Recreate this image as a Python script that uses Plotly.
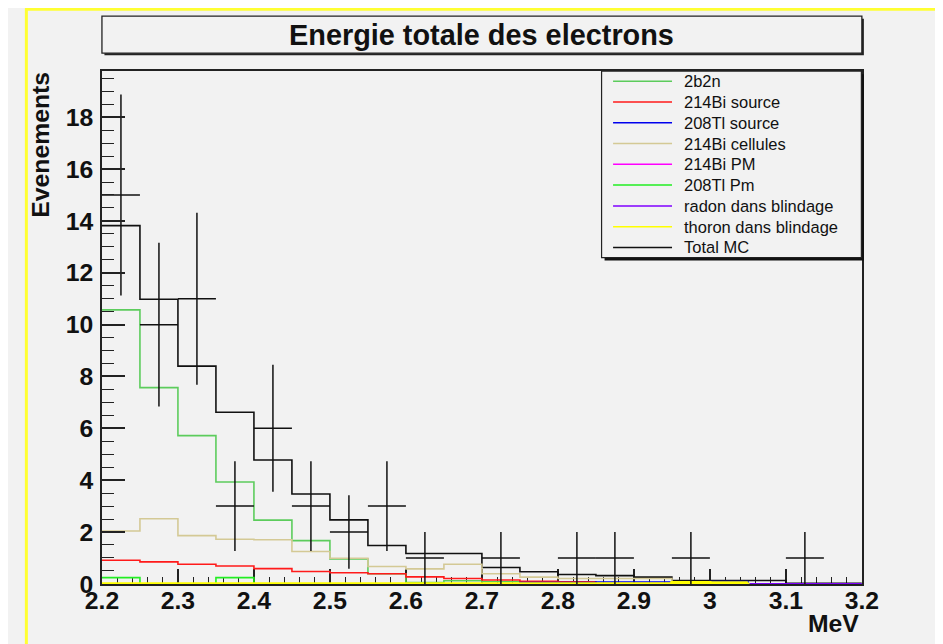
import plotly.graph_objects as go

# ---------------- data ----------------
bin_edges = [round(2.2 + 0.05 * i, 2) for i in range(21)]

data_counts = [15, 10, 11, 3, 6, 3, 2, 3, 1, 0, 1, 0, 1, 1, 0, 1, 0, 0, 1, 0]

total_mc = [13.82, 10.98, 8.40, 6.62, 4.78, 3.47, 2.47, 1.48, 1.17, 1.17,
            0.63, 0.47, 0.36, 0.32, 0.26, 0.13, 0.13, 0.13, 0.02, 0.02]
h_2b2n = [10.57, 7.57, 5.72, 3.93, 2.46, 1.67, 0.96, 0.39, 0.05, 0.12,
          0.08, 0.02, 0.0, 0.0, 0.0, 0.0, 0.0, 0.0, 0.0, 0.0]
bi214_source = [0.91, 0.85, 0.76, 0.69, 0.59, 0.48, 0.43, 0.39, 0.27, 0.21,
                0.15, 0.10, 0.08, 0.0, 0.0, 0.0, 0.0, 0.0, 0.0, 0.0]
tl208_source = [0.0, 0.0, 0.0, 0.0, 0.0, 0.0, 0.0, 0.0, 0.0, 0.0,
                0.0, 0.05, 0.05, 0.07, 0.07, 0.0, 0.09, 0.0, 0.0, 0.0]
bi214_cellules = [2.04, 2.51, 1.86, 1.72, 1.70, 1.25, 0.99, 0.67, 0.58, 0.76,
                  0.39, 0.26, 0.21, 0.21, 0.21, 0.02, 0.02, 0.0, 0.0, 0.0]
bi214_pm = [0.0] * 20
tl208_pm = [0.24, 0.0, 0.0, 0.24, 0.0, 0.0, 0.0, 0.0, 0.0, 0.0,
            0.0, 0.0, 0.0, 0.0, 0.0, 0.0, 0.0, 0.0, 0.0, 0.0]
radon_blindage = [0.0] * 20
thoron_blindage = [0.0, 0.0, 0.0, 0.0, 0.0, 0.0, 0.0, 0.0, 0.0, 0.0,
                   0.0, 0.0, 0.0, 0.0, 0.0, 0.05, 0.04, 0.05, None, None]

series_names = ["2b2n", "214Bi source", "208Tl source", "214Bi cellules",
                "214Bi PM", "208Tl Pm", "radon dans blindage",
                "thoron dans blindage", "Total MC"]
series_values = [h_2b2n, bi214_source, tl208_source, bi214_cellules,
                 bi214_pm, tl208_pm, radon_blindage, thoron_blindage, total_mc]

x_tick_vals = [2.2, 2.3, 2.4, 2.5, 2.6, 2.7, 2.8, 2.9, 3.0, 3.1, 3.2]
x_tick_text = ["2.2", "2.3", "2.4", "2.5", "2.6", "2.7", "2.8", "2.9", "3", "3.1", "3.2"]
y_tick_vals = [0, 2, 4, 6, 8, 10, 12, 14, 16, 18]
y_tick_text = ["0", "2", "4", "6", "8", "10", "12", "14", "16", "18"]

title_text = "Energie totale des electrons"
x_title = "MeV"
y_title = "Evenements"

# ---------------- styles ----------------
W, H = 952, 650
# observed placement of the figure inside the photographed window
SX, OX = 0.965, 24.5
SY, OY = 0.979, 7.8
colors = ["#5ccc5c", "#ff1a1a", "#0000ee", "#d4c995", "#ff00ff",
          "#22ee22", "#7f00ff", "#ffff00", "#111111"]
draw_order = [8, 0, 3, 1, 2, 4, 5, 6, 7]
FONT = "Liberation Sans"
FS = 1 / 0.97


def px(x):
    return ((x - OX) / SX) / W


def py(y):
    return 1 - ((y - OY) / SY) / H


X0, X1, YT, YB = 101.5, 862.0, 71.0, 584.0
y_max = (YB - YT) / 25.94

fig = go.Figure()

for idx in draw_order:
    vals = series_values[idx]
    fig.add_trace(go.Scatter(
        x=bin_edges, y=vals + [vals[-1]], mode="lines", line_shape="hv",
        line=dict(color=colors[idx], width=3.2 if idx == 7 else 1.6),
        connectgaps=False, showlegend=False, hoverinfo="skip"))

# data points with Poisson errors (non-empty bins only)
centers = [round((bin_edges[i] + bin_edges[i + 1]) / 2, 3) for i in range(20)]
dx = [c for c, n in zip(centers, data_counts) if n > 0]
dy = [n for n in data_counts if n > 0]
fig.add_trace(go.Scatter(
    x=dx, y=dy, mode="markers",
    marker=dict(size=0.1, color="black"),
    error_y=dict(type="data", array=[v ** 0.5 for v in dy], width=0,
                 thickness=1.5, color="#111111"),
    error_x=dict(type="constant", value=0.025, width=0, thickness=1.5,
                 color="#111111"),
    showlegend=False, hoverinfo="skip"))

shapes = []
shapes.append(dict(type="rect", xref="paper", yref="paper", x0=0.0, x1=1.0,
                   y0=0.0, y1=py(8.5), fillcolor="#f2f2f2", line=dict(width=0),
                   layer="below"))
shapes.append(dict(type="line", xref="paper", yref="paper", x0=0.0015, x1=0.0015,
                   y0=py(8), y1=0.0, line=dict(color="#ffff33", width=3)))
shapes.append(dict(type="line", xref="paper", yref="paper", x0=0.0, x1=1.0,
                   y0=py(9), y1=py(9), line=dict(color="#ffff33", width=3)))
# title box with shadow
shapes.append(dict(type="rect", xref="paper", yref="paper", x0=px(104), x1=px(864),
                   y0=py(55), y1=py(18.5), fillcolor="#222222", line=dict(width=0)))
shapes.append(dict(type="rect", xref="paper", yref="paper", x0=px(101.5), x1=px(862),
                   y0=py(53), y1=py(16), fillcolor="#f2f2f2",
                   line=dict(color="#222222", width=1.3)))
# legend box with shadow
LX0, LX1, LY0, LY1 = 601.5, 861.5, 71, 257.5
shapes.append(dict(type="rect", xref="paper", yref="paper", x0=px(LX0 + 3), x1=px(LX1 + 2.5),
                   y0=py(LY1 + 3), y1=py(LY0 + 3), fillcolor="#111111", line=dict(width=0)))
shapes.append(dict(type="rect", xref="paper", yref="paper", x0=px(LX0), x1=px(LX1),
                   y0=py(LY1), y1=py(LY0), fillcolor="#f2f2f2",
                   line=dict(color="#222222", width=1.2)))

annotations = []
for i, name in enumerate(series_names):
    yc = 81 + i * 20.8
    shapes.append(dict(type="line", xref="paper", yref="paper", x0=px(613), x1=px(672),
                       y0=py(yc), y1=py(yc), line=dict(color=colors[i], width=1.5)))
    annotations.append(dict(xref="paper", yref="paper", x=px(682), y=py(yc),
                            xanchor="left", yanchor="middle", text=name, showarrow=False,
                            font=dict(family=FONT, size=16 * FS, color="#111111")))

annotations.append(dict(xref="paper", yref="paper", x=px(481.75), y=py(34.5),
                        xanchor="center", yanchor="middle", text=title_text, showarrow=False,
                        font=dict(family=FONT, size=28 * FS, color="#111111", weight=700)))
annotations.append(dict(xref="paper", yref="paper", x=px(40), y=py(69),
                        xanchor="center", yanchor="top", text=y_title, showarrow=False,
                        textangle=-90,
                        font=dict(family=FONT, size=24 * FS, color="#111111", weight=700)))
annotations.append(dict(xref="paper", yref="paper", x=px(861), y=py(624),
                        xanchor="right", yanchor="middle", text=x_title, showarrow=False,
                        font=dict(family=FONT, size=24 * FS, color="#111111", weight=700)))

fig.update_layout(
    width=W, height=H,
    margin=dict(l=0, r=0, t=0, b=0),
    paper_bgcolor="#f2f2f2", plot_bgcolor="#f2f2f2",
    shapes=shapes, annotations=annotations,
    showlegend=False,
    xaxis=dict(domain=[px(X0), px(X1)], range=[2.2, 3.2], tickmode="array",
               tickvals=x_tick_vals, ticktext=x_tick_text, ticks="inside", ticklen=15,
               tickwidth=1.5, tickcolor="#222222", showgrid=False, zeroline=False,
               showline=True, linecolor="#222222", linewidth=1.5, mirror=True,
               layer="below traces",
               minor=dict(ticks="inside", ticklen=7, tickmode="linear", tick0=2.2,
                          dtick=0.02, tickcolor="#222222", tickwidth=1.3, showgrid=False),
               tickfont=dict(family=FONT, size=24 * FS, color="#111111", weight=700),
               ticklabelstandoff=-6),
    yaxis=dict(domain=[py(YB), py(YT)], range=[0, y_max], tickmode="array",
               tickvals=y_tick_vals, ticktext=y_tick_text, ticks="inside", ticklen=23,
               tickwidth=1.5, tickcolor="#222222", showgrid=False, zeroline=False,
               showline=True, linecolor="#222222", linewidth=1.5, mirror=True,
               minor=dict(ticks="inside", ticklen=12, tickmode="linear", tick0=0,
                          dtick=0.5, tickcolor="#222222", tickwidth=1.3, showgrid=False),
               tickfont=dict(family=FONT, size=24 * FS, color="#111111", weight=700),
               ticklabelstandoff=2),
)

fig.write_html("out.html")
